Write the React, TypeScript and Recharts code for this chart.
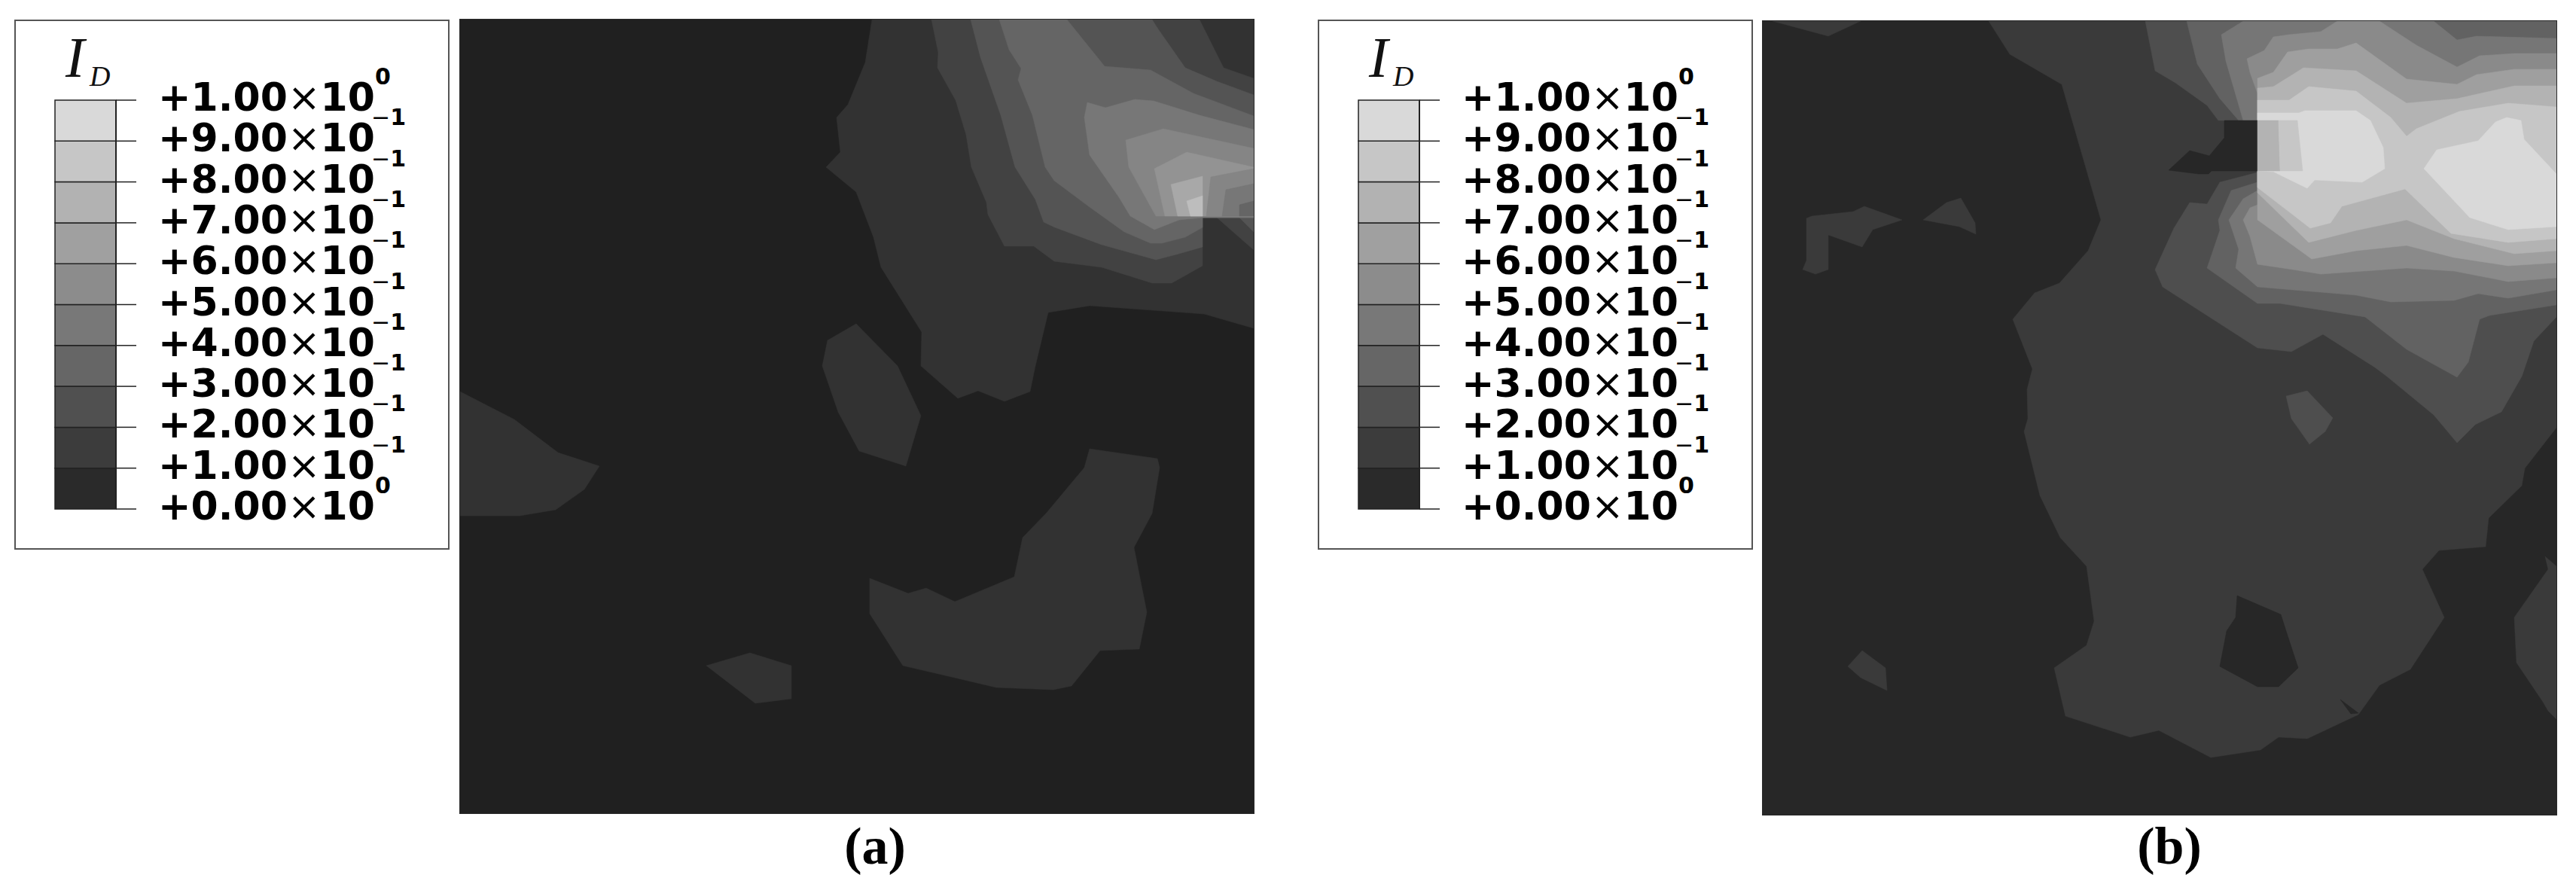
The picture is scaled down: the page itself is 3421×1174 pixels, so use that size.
import React from 'react';
import { Bar, BarChart, Polygon, Scatter, ScatterChart, XAxis, YAxis } from 'recharts';

type Pair = [number, number];
interface Layer {
  level: number;
  pairs: Pair[];
}

// Field extent in mesh units, y measured downwards from the top of the plot
const FIELD_SIZE = 1054;

const fullField: Pair[] = [[0, 0], [1054, 0], [1054, 1054], [0, 1054]];

// Panel (a) contours
const a1Main: Pair[] = [[547, 0], [538, 57], [515, 113], [500, 130], [505, 176], [486, 196], [526, 229], [549, 289], [559, 329], [613, 415], [612, 460], [661, 503], [688, 493], [723, 507], [757, 494], [764, 460], [781, 389], [836, 380], [988, 391], [1054, 410], [1054, 0]];
const a1Left: Pair[] = [[0, 494], [72, 531], [130, 575], [185, 593], [165, 624], [127, 651], [79, 659], [0, 659]];
const a1Mid: Pair[] = [[526, 404], [488, 426], [481, 460], [502, 521], [530, 573], [592, 593], [612, 526], [581, 460]];
const a1Lower: Pair[] = [[836, 570], [926, 583], [929, 595], [919, 656], [895, 701], [912, 787], [902, 836], [850, 838], [812, 885], [788, 890], [712, 887], [661, 875], [588, 858], [544, 789], [544, 742], [595, 762], [619, 755], [657, 773], [736, 740], [747, 688], [778, 656], [829, 595]];
const a1Small: Pair[] = [[327, 858], [385, 841], [440, 858], [440, 902], [392, 908]];
const a2Main: Pair[] = [[626, 0], [635, 44], [634, 64], [658, 107], [672, 153], [679, 196], [699, 243], [701, 259], [723, 301], [762, 301], [789, 321], [852, 329], [919, 350], [945, 350], [986, 327], [986, 263], [1054, 263], [1054, 78], [1014, 64], [982, 0]];
const a2Corner: Pair[] = [[1005, 263], [1054, 263], [1054, 306]];
const a3Main: Pair[] = [[678, 0], [691, 50], [718, 127], [737, 196], [764, 239], [775, 269], [790, 276], [852, 299], [924, 319], [951, 312], [986, 302], [986, 263], [1054, 263], [1054, 100], [1005, 82], [963, 64], [928, 14], [919, 0]];
const a3Corner: Pair[] = [[1035, 263], [1054, 263], [1054, 282]];
const a4Main: Pair[] = [[716, 0], [729, 40], [745, 65], [741, 80], [760, 127], [777, 196], [789, 214], [836, 249], [882, 282], [917, 297], [932, 297], [963, 289], [986, 276], [986, 263], [1054, 263], [1054, 128], [974, 98], [917, 67], [856, 62], [806, 0]];
const a5Main: Pair[] = [[833, 110], [829, 130], [836, 180], [875, 236], [890, 261], [922, 279], [955, 266], [986, 263], [1054, 263], [1054, 146], [982, 127], [921, 108], [896, 106], [857, 117]];
const a6Main: Pair[] = [[884, 160], [888, 196], [924, 261], [1054, 261], [1054, 171], [934, 145]];
const a7Main: Pair[] = [[922, 198], [936, 261], [1054, 261], [1054, 196], [965, 176]];
const a8Main: Pair[] = [[944, 219], [986, 208], [986, 261], [953, 261]];
const a9Main: Pair[] = [[965, 241], [986, 234], [986, 261], [970, 261]];
const a6Step: Pair[] = [[997, 209], [1054, 198], [1054, 261], [991, 261]];
const a5Step: Pair[] = [[1017, 226], [1054, 218], [1054, 261], [1012, 261]];
const a4Step: Pair[] = [[1035, 246], [1054, 241], [1054, 261], [1035, 261]];

// Panel (b) contours
const b1Main: Pair[] = [[300, 0], [328, 44], [397, 84], [449, 264], [432, 305], [394, 348], [361, 361], [332, 396], [358, 462], [351, 489], [352, 528], [347, 545], [368, 630], [395, 686], [430, 724], [440, 797], [430, 829], [387, 859], [402, 923], [488, 951], [526, 942], [595, 978], [661, 968], [685, 951], [723, 953], [791, 921], [819, 882], [860, 861], [905, 792], [876, 728], [898, 703], [960, 698], [964, 660], [1008, 617], [1012, 594], [1054, 540], [1054, 0]];
const b0Hole: Pair[] = [[630, 763], [688, 788], [695, 810], [711, 859], [685, 884], [657, 884], [607, 857], [616, 810], [628, 792]];
const b0Sliver: Pair[] = [[767, 901], [791, 919], [781, 920]];
const b1Top: Pair[] = [[13, 0], [87, 20], [130, 0]];
const b1Bent: Pair[] = [[58, 262], [65, 259], [120, 253], [135, 246], [185, 264], [146, 277], [132, 300], [87, 284], [87, 330], [70, 336], [53, 330], [58, 318]];
const b1Wedge: Pair[] = [[213, 264], [244, 241], [263, 235], [282, 268], [283, 283], [261, 273]];
const b1Diamond: Pair[] = [[132, 836], [163, 859], [165, 889], [130, 872], [113, 857]];
const b1Edge: Pair[] = [[1039, 711], [1054, 724], [1054, 927], [1043, 916], [1036, 904], [1001, 852], [998, 792], [1043, 728]];
const b2Main: Pair[] = [[508, 0], [521, 66], [548, 82], [590, 112], [605, 132], [657, 132], [657, 201], [607, 214], [590, 243], [567, 241], [546, 275], [521, 330], [531, 353], [657, 434], [702, 439], [744, 416], [813, 460], [829, 472], [891, 523], [922, 560], [946, 536], [981, 519], [1008, 472], [1024, 425], [1054, 393], [1054, 0]];
const b2Island: Pair[] = [[695, 498], [723, 491], [757, 527], [747, 545], [726, 562], [702, 528]];
const b3Main: Pair[] = [[563, 0], [577, 57], [607, 103], [632, 132], [657, 132], [657, 214], [622, 225], [605, 264], [607, 278], [590, 328], [657, 375], [687, 375], [800, 393], [855, 436], [922, 473], [937, 453], [952, 396], [965, 391], [1054, 377], [1054, 0]];
const b4Main: Pair[] = [[609, 18], [638, 0], [891, 0], [922, 25], [948, 20], [1054, 23], [1054, 357], [990, 368], [950, 362], [918, 371], [834, 373], [788, 364], [704, 357], [657, 353], [628, 328], [632, 303], [619, 264], [638, 236], [657, 225], [657, 132], [638, 132], [615, 53]];
const b5Main: Pair[] = [[643, 50], [666, 39], [678, 21], [699, 18], [741, 14], [763, 0], [819, 0], [868, 32], [922, 61], [952, 46], [998, 43], [1054, 43], [1054, 341], [990, 346], [918, 332], [855, 328], [741, 336], [704, 330], [657, 323], [647, 286], [638, 264], [647, 248], [657, 244], [657, 96], [647, 68]];
const b6Main: Pair[] = [[657, 76], [678, 68], [697, 41], [725, 37], [763, 37], [788, 29], [855, 77], [922, 84], [948, 71], [998, 64], [1054, 64], [1054, 321], [990, 325], [918, 314], [855, 298], [788, 305], [729, 316], [657, 264]];
const b7Main: Pair[] = [[657, 89], [678, 87], [718, 62], [788, 66], [855, 109], [922, 103], [998, 86], [1054, 86], [1054, 305], [998, 309], [918, 289], [855, 264], [788, 278], [725, 294], [657, 228]];
const b8Main: Pair[] = [[657, 105], [699, 105], [725, 87], [788, 93], [834, 128], [855, 153], [868, 143], [925, 120], [990, 109], [1054, 114], [1054, 289], [990, 294], [914, 282], [853, 223], [769, 246], [754, 268], [727, 275], [657, 221]];
const b9Left: Pair[] = [[657, 122], [712, 122], [720, 119], [788, 119], [807, 132], [824, 168], [826, 196], [796, 214], [733, 211], [723, 222], [678, 200], [657, 199]];
const b9Right: Pair[] = [[878, 196], [895, 171], [950, 159], [973, 134], [988, 128], [1007, 132], [1011, 157], [1054, 203], [1054, 273], [990, 277], [939, 261]];
const b0Block: Pair[] = [[613, 132], [657, 132], [657, 199], [596, 199], [592, 203], [579, 203], [539, 198], [567, 172], [593, 179], [613, 155]];
const b7Block: Pair[] = [[657, 132], [685, 132], [687, 199], [657, 199]];
const b8Block: Pair[] = [[685, 132], [710, 132], [717, 199], [687, 199]];

const panelALayers: Layer[] = [
  { level: 0, pairs: fullField },
  { level: 1, pairs: a1Main },
  { level: 1, pairs: a1Left },
  { level: 1, pairs: a1Mid },
  { level: 1, pairs: a1Lower },
  { level: 1, pairs: a1Small },
  { level: 2, pairs: a2Main },
  { level: 2, pairs: a2Corner },
  { level: 3, pairs: a3Main },
  { level: 3, pairs: a3Corner },
  { level: 4, pairs: a4Main },
  { level: 5, pairs: a5Main },
  { level: 6, pairs: a6Main },
  { level: 7, pairs: a7Main },
  { level: 8, pairs: a8Main },
  { level: 9, pairs: a9Main },
  { level: 6, pairs: a6Step },
  { level: 5, pairs: a5Step },
  { level: 4, pairs: a4Step },
];

const panelBLayers: Layer[] = [
  { level: 0, pairs: fullField },
  { level: 1, pairs: b1Main },
  { level: 0, pairs: b0Hole },
  { level: 0, pairs: b0Sliver },
  { level: 1, pairs: b1Top },
  { level: 1, pairs: b1Bent },
  { level: 1, pairs: b1Wedge },
  { level: 1, pairs: b1Diamond },
  { level: 1, pairs: b1Edge },
  { level: 2, pairs: b2Main },
  { level: 2, pairs: b2Island },
  { level: 3, pairs: b3Main },
  { level: 4, pairs: b4Main },
  { level: 5, pairs: b5Main },
  { level: 6, pairs: b6Main },
  { level: 7, pairs: b7Main },
  { level: 8, pairs: b8Main },
  { level: 9, pairs: b9Left },
  { level: 9, pairs: b9Right },
  { level: 0, pairs: b0Block },
  { level: 7, pairs: b7Block },
  { level: 8, pairs: b8Block },
];

const panelAGreys = ['#202020', '#323232', '#424242', '#545454', '#656565', '#777777', '#858585', '#939393', '#a8a8a8', '#bdbdbd'];
const panelBGreys = ['#272727', '#3a3a3a', '#4e4e4e', '#626262', '#767676', '#8a8a8a', '#9f9f9f', '#b3b3b3', '#c6c6c6', '#d9d9d9'];

// Legend
const legendBands = [0.1, 0.1, 0.1, 0.1, 0.1, 0.1, 0.1, 0.1, 0.1, 0.1];
const legendGreys = ['#2a2a2a', '#3c3c3c', '#505050', '#666666', '#787878', '#8c8c8c', '#a0a0a0', '#b2b2b2', '#c6c6c6', '#d9d9d9'];
const legendTicks = [0, 0.1, 0.2, 0.3, 0.4, 0.5, 0.6, 0.7, 0.8, 0.9, 1];
const legendMantissas = ['+0.00', '+1.00', '+2.00', '+3.00', '+4.00', '+5.00', '+6.00', '+7.00', '+8.00', '+9.00', '+1.00'];
const legendExponents = ['0', '-1', '-1', '-1', '-1', '-1', '-1', '-1', '-1', '-1', '0'];

const legendRow: Record<string, number | string> = { name: 'ID' };
legendBands.forEach((v, i) => {
  legendRow[`band${i}`] = v;
});

function LegendTick({ x, y, index }: any) {
  const exponent = legendExponents[index];
  return (
    <g fontFamily="'DejaVu Sans'" fill="#000">
      <text x={x} y={y + 14} fontSize={52} fontWeight={700}>
        {legendMantissas[index]}
        <tspan fontWeight={400}>×</tspan>
        10
      </text>
      {exponent === '0' ? (
        <text x={x + 288} y={y - 21} fontSize={30} fontWeight={700}>0</text>
      ) : (
        <text x={x + 283} y={y - 21} fontSize={30} fontWeight={700}>
          <tspan fontWeight={400}>−</tspan>1
        </text>
      )}
    </g>
  );
}

function LegendBox({ left }: { left: number }) {
  return (
    <div style={{ position: 'absolute', left, top: 26, width: 578, height: 704, boxSizing: 'border-box', border: '2px solid #555', background: '#fff' }}>
      <div style={{ position: 'absolute', left: 66, top: 12, fontFamily: "'Liberation Serif'", fontStyle: 'italic', fontSize: 76, lineHeight: '72px', color: '#111' }}>I</div>
      <div style={{ position: 'absolute', left: 98, top: 54, fontFamily: "'Liberation Serif'", fontStyle: 'italic', fontSize: 38, lineHeight: '38px', color: '#111' }}>D</div>
      <BarChart
        width={574}
        height={700}
        data={[legendRow]}
        margin={{ top: 105, right: 0, bottom: 52, left: 52 }}
        barCategoryGap={0}
        style={{ position: 'absolute', left: 0, top: 0 }}
      >
        <XAxis dataKey="name" hide />
        <YAxis
          type="number"
          orientation="right"
          width={441}
          domain={[0, 1]}
          ticks={legendTicks}
          interval={0}
          tickSize={27}
          tickMargin={29}
          tick={<LegendTick />}
          axisLine={{ stroke: '#222', strokeWidth: 2 }}
          tickLine={{ stroke: '#222', strokeWidth: 1.5 }}
        />
        {legendBands.map((_, i) => (
          <Bar
            key={i}
            dataKey={`band${i}`}
            stackId="legend"
            fill={legendGreys[i]}
            stroke="#222"
            strokeWidth={1.5}
            isAnimationActive={false}
          />
        ))}
      </BarChart>
    </div>
  );
}

function ContourPanel({ layers, greys, left, top }: { layers: Layer[]; greys: string[]; left: number; top: number }) {
  return (
    <div style={{ position: 'absolute', left, top, width: FIELD_SIZE, height: FIELD_SIZE, boxShadow: '0 0 0 1px #2a2a2a' }}>
      <ScatterChart width={FIELD_SIZE} height={FIELD_SIZE} margin={{ top: 0, right: 0, bottom: 0, left: 0 }}>
        <XAxis type="number" dataKey="x" domain={[0, FIELD_SIZE]} hide />
        <YAxis type="number" dataKey="y" domain={[0, FIELD_SIZE]} reversed hide />
        {layers.map((layer, i) => (
          <Scatter
            key={i}
            data={layer.pairs.map(([x, y]) => ({ x, y }))}
            isAnimationActive={false}
            shape={() => <g />}
            line={(props: any) => (
              <Polygon points={props.points} fill={greys[layer.level]} stroke={greys[layer.level]} strokeWidth={0.5} />
            )}
          />
        ))}
      </ScatterChart>
    </div>
  );
}

function Caption({ text, center }: { text: string; center: number }) {
  return (
    <div style={{ position: 'absolute', left: center - 100, top: 1086, width: 200, textAlign: 'center', fontFamily: "'Liberation Serif'", fontWeight: 700, fontSize: 70, lineHeight: '76px', color: '#000' }}>
      {text}
    </div>
  );
}

export default function App() {
  return (
    <div style={{ position: 'absolute', left: 0, top: 0, width: 3421, height: 1174, background: '#fff', overflow: 'hidden' }}>
      <LegendBox left={19} />
      <ContourPanel layers={panelALayers} greys={panelAGreys} left={611} top={26} />
      <Caption text="(a)" center={1162} />
      <LegendBox left={1750} />
      <ContourPanel layers={panelBLayers} greys={panelBGreys} left={2341} top={28} />
      <Caption text="(b)" center={2881} />
    </div>
  );
}
